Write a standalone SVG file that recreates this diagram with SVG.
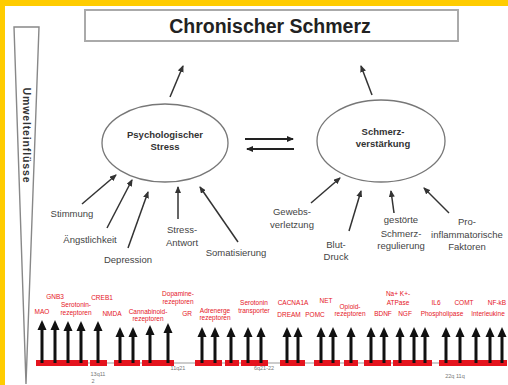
<svg xmlns="http://www.w3.org/2000/svg" width="508" height="385" viewBox="0 0 508 385">
<defs>
<style>
text{font-family:"Liberation Sans",Arial,sans-serif;text-anchor:middle}
.t{font-size:19.5px;font-weight:bold;fill:#222}
.n{font-size:9.5px;font-weight:bold;fill:#333}
.f{font-size:9.5px;fill:#444}
.g{font-size:6.5px;fill:#e5141e}
.c{font-size:5.5px;fill:#777}
.ell{fill:#fff;stroke:#777;stroke-width:1.3}
.ar{stroke:#333;stroke-width:1.5;fill:none;marker-end:url(#ah)}
.dar{stroke:#222;stroke-width:2.2;fill:none;marker-end:url(#ah2)}
.sh{stroke:#111;stroke-width:3}
.ah{fill:#111}
.rb{fill:#e5141e}
</style>
<marker id="ah" markerUnits="userSpaceOnUse" markerWidth="7" markerHeight="6" refX="6" refY="3" orient="auto"><path d="M0,0 L7,3 L0,6 z" fill="#333"/></marker>
<marker id="ah2" markerUnits="userSpaceOnUse" markerWidth="7" markerHeight="6" refX="6" refY="3" orient="auto"><path d="M0,0 L7,3 L0,6 z" fill="#222"/></marker>
</defs>
<rect width="508" height="385" fill="#fff"/>
<rect width="508" height="6" fill="#FFCC00"/>
<rect width="5" height="385" fill="#FFCC00"/>

<g id="title">
<rect x="85" y="10" width="373" height="31" fill="#fff" stroke="#aaa" stroke-width="2"/>
<text class="t" x="270" y="33">Chronischer Schmerz</text>
</g>

<g id="umwelt">
<polygon points="14,27 39,27 26,384" fill="#fff" stroke="#888" stroke-width="1.4"/>
<text transform="translate(23,135) rotate(90)" style="font-size:10.5px;font-weight:bold;fill:#333" textLength="95" lengthAdjust="spacing">Umwelteinflüsse</text>
</g>

<g id="stress">
<ellipse class="ell" cx="165" cy="143" rx="63" ry="39"/>
<text class="n" x="165" y="138">Psychologischer</text>
<text class="n" x="165" y="150">Stress</text>
</g>

<g id="verstaerkung">
<ellipse class="ell" cx="381" cy="141" rx="64" ry="41"/>
<text class="n" x="383" y="135">Schmerz-</text>
<text class="n" x="383" y="147">verstärkung</text>
</g>

<g id="f-stimmung"><text class="f" x="72" y="217">Stimmung</text></g>
<g id="f-angst"><text class="f" x="90" y="243">Ängstlichkeit</text></g>
<g id="f-depression"><text class="f" x="128" y="263">Depression</text></g>
<g id="f-stressantwort"><text class="f" x="182" y="233">Stress-</text><text class="f" x="182" y="246">Antwort</text></g>
<g id="f-somatisierung"><text class="f" x="236" y="256">Somatisierung</text></g>
<g id="f-gewebe"><text class="f" x="292" y="215">Gewebs-</text><text class="f" x="292" y="228">verletzung</text></g>
<g id="f-blut"><text class="f" x="336" y="248">Blut-</text><text class="f" x="336" y="260">Druck</text></g>
<g id="f-regulierung"><text class="f" x="401" y="223">gestörte</text><text class="f" x="401" y="237">Schmerz-</text><text class="f" x="401" y="249">regulierung</text></g>
<g id="f-inflamm"><text class="f" x="467" y="225">Pro-</text><text class="f" x="467" y="238">inflammatorische</text><text class="f" x="467" y="250">Faktoren</text></g>

<g id="connectors">
<line class="ar" x1="170" y1="97" x2="183" y2="66"/>
<line class="ar" x1="372" y1="95" x2="361" y2="66"/>
<line class="dar" x1="245" y1="139" x2="293" y2="139"/>
<line class="dar" x1="294" y1="149" x2="247" y2="149"/>
<line class="ar" x1="82" y1="204" x2="116" y2="175"/>
<line class="ar" x1="107" y1="228" x2="132" y2="180"/>
<line class="ar" x1="128" y1="248" x2="148" y2="192"/>
<line class="ar" x1="178" y1="219" x2="178" y2="187"/>
<line class="ar" x1="238" y1="242" x2="200" y2="187"/>
<line class="ar" x1="311" y1="203" x2="340" y2="178"/>
<line class="ar" x1="349" y1="231" x2="361" y2="191"/>
<line class="ar" x1="394" y1="213" x2="391" y2="191"/>
<line class="ar" x1="449" y1="213" x2="424" y2="188"/>
</g>

<g id="genome">
<line x1="37" y1="363" x2="507" y2="363" stroke="#999" stroke-width="1"/>
<g id="red-blocks">
<rect class="rb" x="36" y="360" width="26" height="6"/>
<rect class="rb" x="62" y="360" width="26" height="6"/>
<rect class="rb" x="90" y="360" width="17" height="6"/>
<rect class="rb" x="114" y="360" width="26" height="6"/>
<rect class="rb" x="142" y="360" width="32" height="6"/>
<rect class="rb" x="195" y="360" width="27" height="6"/>
<rect class="rb" x="225" y="360" width="14" height="6"/>
<rect class="rb" x="241" y="360" width="27" height="6"/>
<rect class="rb" x="280" y="360" width="25" height="6"/>
<rect class="rb" x="314" y="360" width="26" height="6"/>
<rect class="rb" x="344" y="360" width="14" height="6"/>
<rect class="rb" x="364" y="360" width="27" height="6"/>
<rect class="rb" x="393" y="360" width="39" height="6"/>
<rect class="rb" x="439" y="360" width="68" height="6"/>
</g>
<g id="gene-arrows">
<line class="sh" x1="42" y1="363" x2="42" y2="328"/><polygon class="ah" points="42,320 37.5,330 46.5,330"/>
<line class="sh" x1="55" y1="363" x2="55" y2="328"/><polygon class="ah" points="55,320 50.5,330 59.5,330"/>
<line class="sh" x1="68" y1="363" x2="68" y2="328"/><polygon class="ah" points="68,321 63.5,331 72.5,331"/>
<line class="sh" x1="81" y1="363" x2="81" y2="328"/><polygon class="ah" points="81,321 76.5,331 85.5,331"/>
<line class="sh" x1="98" y1="363" x2="98" y2="328"/><polygon class="ah" points="98,321 93.5,331 102.5,331"/>
<line class="sh" x1="120" y1="363" x2="120" y2="334"/><polygon class="ah" points="120,327 115.5,337 124.5,337"/>
<line class="sh" x1="133" y1="363" x2="133" y2="334"/><polygon class="ah" points="133,327 128.5,337 137.5,337"/>
<line class="sh" x1="150" y1="363" x2="150" y2="332"/><polygon class="ah" points="150,325 145.5,335 154.5,335"/>
<line class="sh" x1="168" y1="363" x2="168" y2="330"/><polygon class="ah" points="168,323 163.5,333 172.5,333"/>
<line class="sh" x1="202" y1="363" x2="202" y2="334"/><polygon class="ah" points="202,327 197.5,337 206.5,337"/>
<line class="sh" x1="215" y1="363" x2="215" y2="334"/><polygon class="ah" points="215,327 210.5,337 219.5,337"/>
<line class="sh" x1="231" y1="363" x2="231" y2="334"/><polygon class="ah" points="231,327 226.5,337 235.5,337"/>
<line class="sh" x1="248" y1="363" x2="248" y2="334"/><polygon class="ah" points="248,327 243.5,337 252.5,337"/>
<line class="sh" x1="261" y1="363" x2="261" y2="334"/><polygon class="ah" points="261,327 256.5,337 265.5,337"/>
<line class="sh" x1="287" y1="363" x2="287" y2="334"/><polygon class="ah" points="287,327 282.5,337 291.5,337"/>
<line class="sh" x1="298" y1="363" x2="298" y2="334"/><polygon class="ah" points="298,327 293.5,337 302.5,337"/>
<line class="sh" x1="321" y1="363" x2="321" y2="334"/><polygon class="ah" points="321,327 316.5,337 325.5,337"/>
<line class="sh" x1="333" y1="363" x2="333" y2="334"/><polygon class="ah" points="333,327 328.5,337 337.5,337"/>
<line class="sh" x1="351" y1="363" x2="351" y2="334"/><polygon class="ah" points="351,327 346.5,337 355.5,337"/>
<line class="sh" x1="371" y1="363" x2="371" y2="334"/><polygon class="ah" points="371,327 366.5,337 375.5,337"/>
<line class="sh" x1="384" y1="363" x2="384" y2="334"/><polygon class="ah" points="384,327 379.5,337 388.5,337"/>
<line class="sh" x1="400" y1="363" x2="400" y2="334"/><polygon class="ah" points="400,327 395.5,337 404.5,337"/>
<line class="sh" x1="414" y1="363" x2="414" y2="334"/><polygon class="ah" points="414,327 409.5,337 418.5,337"/>
<line class="sh" x1="425" y1="363" x2="425" y2="334"/><polygon class="ah" points="425,327 420.5,337 429.5,337"/>
<line class="sh" x1="446" y1="363" x2="446" y2="334"/><polygon class="ah" points="446,327 441.5,337 450.5,337"/>
<line class="sh" x1="460" y1="363" x2="460" y2="334"/><polygon class="ah" points="460,327 455.5,337 464.5,337"/>
<line class="sh" x1="476" y1="363" x2="476" y2="334"/><polygon class="ah" points="476,327 471.5,337 480.5,337"/>
<line class="sh" x1="490" y1="363" x2="490" y2="334"/><polygon class="ah" points="490,327 485.5,337 494.5,337"/>
<line class="sh" x1="502" y1="363" x2="502" y2="334"/><polygon class="ah" points="502,327 497.5,337 506.5,337"/>
</g>
<g id="gene-labels">
<text class="g" x="42" y="314">MAO</text>
<text class="g" x="55" y="299">GNB3</text>
<text class="g" x="76" y="307">Serotonin-</text><text class="g" x="76" y="315">rezeptoren</text>
<text class="g" x="102" y="300">CREB1</text>
<text class="g" x="112" y="316">NMDA</text>
<text class="g" x="148" y="314">Cannabinoid-</text><text class="g" x="148" y="321">rezeptoren</text>
<text class="g" x="178" y="296">Dopamine-</text><text class="g" x="178" y="304">rezeptoren</text>
<text class="g" x="187" y="316">GR</text>
<text class="g" x="215" y="313">Adrenerge</text><text class="g" x="215" y="320">rezeptoren</text>
<text class="g" x="254" y="305">Serotonin</text><text class="g" x="254" y="313">transporter</text>
<text class="g" x="293" y="305">CACNA1A</text>
<text class="g" x="326" y="303">NET</text>
<text class="g" x="289" y="317">DREAM</text>
<text class="g" x="315" y="317">POMC</text>
<text class="g" x="350" y="309">Opioid-</text><text class="g" x="350" y="316">rezeptoren</text>
<text class="g" x="398" y="296">Na+  K+-</text><text class="g" x="398" y="305">ATPase</text>
<text class="g" x="383" y="316">BDNF</text>
<text class="g" x="405" y="316">NGF</text>
<text class="g" x="436" y="305">IL6</text>
<text class="g" x="442" y="316">Phospholipase</text>
<text class="g" x="464" y="305">COMT</text>
<text class="g" x="497" y="305">NF-kB</text>
<text class="g" x="488" y="316">Interleukine</text>
</g>
<g id="chromosome-labels">
<text class="c" x="98" y="376">13q11</text>
<text class="c" x="93" y="383">2</text>
<text class="c" x="178" y="370">11q21</text>
<text class="c" x="264" y="370">6q21-22</text>
<text class="c" x="455" y="378">22q  11q</text>
</g>
</g>
</svg>
